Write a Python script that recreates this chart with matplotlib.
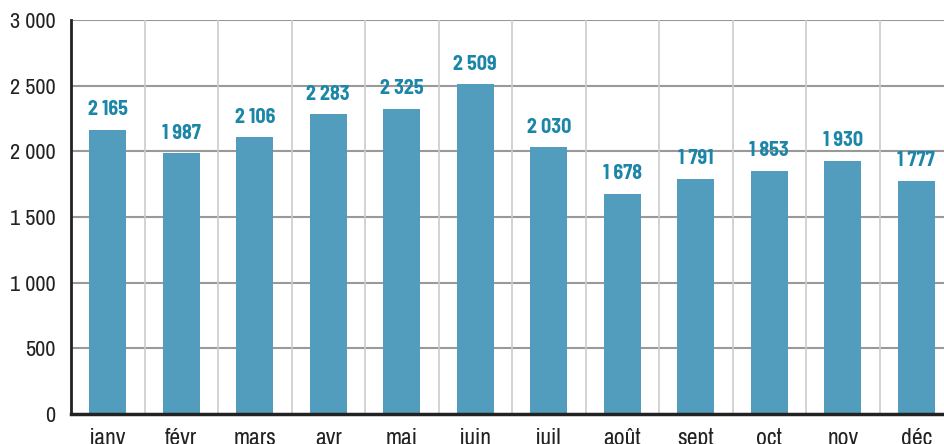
import matplotlib
matplotlib.use("Agg")
import matplotlib.pyplot as plt

months = ["janv", "févr", "mars", "avr", "mai", "juin", "juil", "août", "sept", "oct", "nov", "déc"]
values = [2165, 1987, 2106, 2283, 2325, 2509, 2030, 1678, 1791, 1853, 1930, 1777]
yticks = [0, 500, 1000, 1500, 2000, 2500, 3000]

plt.rcParams['font.family'] = ['Archivo Narrow', 'DejaVu Sans']
label_font = ['Barlow Semi Condensed', 'DejaVu Sans']

def fmt(v):
    return f"{v:,}".replace(",", " ")

fig = plt.figure(figsize=(9.45, 4.44), dpi=100)
W, H = 945, 444
ax = fig.add_axes([71 / W, (H - 414) / H, (945 - 71) / W, (414 - 20) / H])

x = list(range(len(months)))
ax.bar(x, values, width=0.5, color="#529dbd", zorder=3)
for xi, v in zip(x, values):
    ax.annotate(fmt(v), (xi, v), xytext=(0, 7.5), textcoords="offset points",
                ha="center", va="bottom", fontsize=14.5, fontweight="bold",
                family=label_font, color="#1b86a8", zorder=4)

ax.set_ylim(0, 3000)
ax.set_xlim(-0.5, (945 - 71) / 73.5 - 0.5)
ax.set_yticks(yticks)
ax.set_yticklabels([fmt(t) for t in yticks], fontsize=16, color="#222222")
ax.set_xticks(x)
ax.set_xticklabels(months, fontsize=17, color="#222222")
ax.tick_params(axis="both", length=0)
ax.tick_params(axis="x", pad=10)
ax.tick_params(axis="y", pad=11)

for t in yticks[1:]:
    ax.axhline(t, color="#999999", lw=1.5, zorder=1)
for b in range(1, 12):
    ax.axvline(b - 0.5, color="#cccccc", lw=1.2, zorder=1)

for s in ["top", "right"]:
    ax.spines[s].set_visible(False)
ax.spines["left"].set_color("#222222")
ax.spines["left"].set_linewidth(2)
ax.spines["bottom"].set_color("#222222")
ax.spines["bottom"].set_linewidth(2.5)
ax.spines["bottom"].set_zorder(5)

fig.savefig("out.png", dpi=100)
